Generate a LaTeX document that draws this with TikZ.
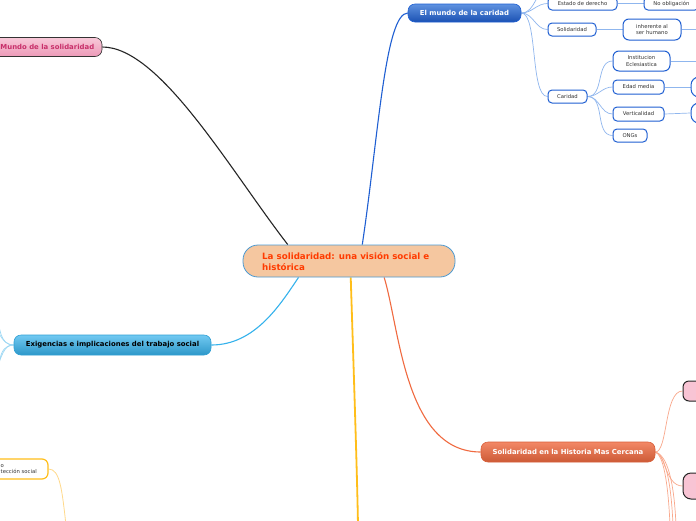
\documentclass[tikz,border=0pt]{standalone}
\usepackage{fontspec}
\setmainfont{DejaVu Sans}
\definecolor{subb}{HTML}{1F5FD2}
\definecolor{subl}{HTML}{8FB6EE}
\definecolor{txt}{HTML}{333333}
\definecolor{mainblue}{HTML}{2A6ED6}
\definecolor{cenfill}{HTML}{F5C7A0}
\definecolor{cenline}{HTML}{4C9AD2}
\definecolor{centxt}{HTML}{FF3B00}
\definecolor{orgline}{HTML}{F06A40}
\definecolor{orglight}{HTML}{F9A88C}
\definecolor{skyline}{HTML}{35B2EC}
\definecolor{skylight}{HTML}{9ED8F4}
\definecolor{yel}{HTML}{FFBE1A}
\definecolor{yellight}{HTML}{FFD98A}
\definecolor{pinktxt}{HTML}{C8306A}
\definecolor{pinktop}{HTML}{F8C8D8}
\definecolor{pinkbot}{HTML}{EC9AB8}
\definecolor{pinkfill}{HTML}{F8C4D4}
\usetikzlibrary{backgrounds}
\tikzset{
  every node/.style={font=\fontsize{5.3}{6.4}\selectfont, inner sep=0pt},
  sub/.style={draw=subb, line width=1pt, fill=white, rounded corners=4pt, text=txt, align=center},
  mainbox/.style={rounded corners=7pt, line width=0.6pt, font=\bfseries\fontsize{6.9}{8}\selectfont},
  subln/.style={draw=subl, line width=0.7pt},
  orgln/.style={draw=orglight, line width=0.7pt},
  skyln/.style={draw=skylight, line width=0.7pt},
}
\begin{document}
\begin{tikzpicture}[x=1pt,y=-1pt]
\useasboundingbox (0,0) rectangle (696,520);
% central
\node[draw=cenline, line width=0.8pt, fill=cenfill, rounded corners=15pt, minimum width=212pt, minimum height=32pt] (central) at (349,261) {};
\node[text=centxt, align=left, font=\bfseries\fontsize{8.7}{11}\selectfont, anchor=west] (centxt) at (262,261.5) {La solidaridad: una visión social e\\histórica};
% main topics
\node[mainbox, draw=subb, top color=mainblue!75!white, bottom color=subb!85!black, text=white, minimum width=113pt, minimum height=18pt] (mundo) at (464.5,13) {El mundo de la caridad};
\node[mainbox, draw=black!80, top color=pinktop, bottom color=pinkbot, minimum width=132pt, minimum height=19pt] (pinkL) at (36,47) {};
\node[text=pinktxt, font=\bfseries\fontsize{6.9}{8}\selectfont, anchor=west] (pinkLt) at (0.3,47) {Mundo de la solidaridad};
\node[mainbox, draw=skyline!90!black, top color=skyline!70!white, bottom color=skyline!85!black, text=black, minimum width=197pt, minimum height=20pt] (exig) at (112.5,345) {Exigencias e implicaciones del trabajo social};
\node[mainbox, draw=orgline!90!black, top color=orgline!80!white, bottom color=orgline!85!black, text=white, minimum width=174pt, minimum height=20pt] (solH) at (568,452) {Solidaridad en la Historia Mas Cercana};
% right pink partial nodes
\node[draw=black!85, line width=1pt, fill=pinkfill, rounded corners=6pt, minimum width=34pt, minimum height=20pt] (pinkR1) at (700,391) {};
\node[draw=black!85, line width=1pt, fill=pinkfill, rounded corners=8pt, minimum width=34pt, minimum height=26pt] (pinkR2) at (700,486) {};
% left yellow partial node
\node[draw=yel, line width=1.2pt, fill=white, rounded corners=6pt, minimum width=108pt, minimum height=20pt] (yelL) at (-6,469) {};
\node[text=txt, align=left, anchor=west] (yelLt) at (0.5,469) {o\\tección social};
% blue sub nodes
\node[sub, minimum width=69pt, minimum height=13pt] (estado) at (582.5,3.5) {Estado de derecho};
\node[sub, minimum width=55pt, minimum height=13pt] (noobl) at (671.5,3.5) {No obligación};
\node[sub, minimum width=48pt, minimum height=13pt] (solid) at (572,29.5) {Solidaridad};
\node[sub, minimum width=58pt, minimum height=21pt, rounded corners=6pt] (inher) at (652,29.5) {inherente al\\ser humano};
\node[sub, minimum width=39pt, minimum height=13pt] (carid) at (567.5,96.5) {Caridad};
\node[sub, minimum width=57pt, minimum height=20pt, rounded corners=6pt] (instit) at (641.5,61) {Institucion\\Eclesiastica};
\node[sub, minimum width=51pt, minimum height=14pt] (edad) at (638.5,87) {Edad media};
\node[sub, minimum width=51pt, minimum height=14pt] (vert) at (638.5,114) {Verticalidad};
\node[sub, minimum width=34pt, minimum height=13pt] (ongs) at (630,135.5) {ONGs};
\node[sub, minimum width=29pt, minimum height=20pt, rounded corners=8pt] (circ1) at (705.5,87) {};
\node[sub, minimum width=29pt, minimum height=20pt, rounded corners=8pt] (circ2) at (705.5,113) {};
% free ends
\coordinate (topc) at (550,-12);
\coordinate (e1) at (700,29.5);
\coordinate (e2) at (700,61);
\coordinate (yb) at (358,525);
\coordinate (yl) at (66,525);
\coordinate (l1) at (-3,313);
\coordinate (l2) at (-3,330);
\coordinate (l3) at (-3,366);
\coordinate (l4) at (-3,386);
\coordinate (o1) at (670,525);
\coordinate (o2) at (673,525);
\coordinate (o3) at (676,525);
\begin{scope}[on background layer]
\fill[white] (0,0) rectangle (696,520);
% main connectors
\draw[black!85, line width=1.1pt] (central.165) .. controls (230,170) and (160,47) .. (pinkL.east);
\draw[subb, line width=1.1pt] (central.51) .. controls (378,140) and (385,13) .. (mundo.west);
\draw[skyline, line width=1.1pt] (central.-162) .. controls (280,305) and (255,345) .. (exig.east);
\draw[orgline, line width=1.1pt] (central.-25) .. controls (400,330) and (405,452) .. (solH.west);
\draw[yel, line width=1.8pt] (central.-84) .. controls (354,380) and (357,470) .. (yb);
% blue sub connectors
\draw[subln] (mundo.east) to[out=0,in=180] (topc);
\draw[subln] (mundo.east) to[out=0,in=180] (estado.west);
\draw[subln] (mundo.east) to[out=0,in=180] (solid.west);
\draw[subln] (mundo.east) .. controls (538,13) and (530,96.5) .. (carid.west);
\draw[subln] (estado.east) -- (noobl.west);
\draw[subln] (solid.east) -- (inher.west);
\draw[subln] (inher.east) -- (e1);
\draw[subln] (instit.east) -- (e2);
\draw[subln] (carid.east) to[out=0,in=180] (instit.west);
\draw[subln] (carid.east) to[out=0,in=180] (edad.west);
\draw[subln] (carid.east) to[out=0,in=180] (vert.west);
\draw[subln] (carid.east) to[out=0,in=180] (ongs.west);
\draw[subln] (edad.east) -- (circ1.west);
\draw[subln] (vert.east) -- (circ2.west);
% sky sub connectors
\draw[skyln] (exig.west) to[out=180,in=-80] (l1);
\draw[skyln] (exig.west) to[out=180,in=-60] (l2);
\draw[skyln] (exig.west) to[out=180,in=60] (l3);
\draw[skyln] (exig.west) to[out=180,in=80] (l4);
% orange sub connectors
\draw[orgln] (solH.east) .. controls (668,452) and (664,391) .. (pinkR1.west);
\draw[orgln] (solH.east) .. controls (665,452) and (665,486) .. (pinkR2.west);
\draw[orgln] (solH.east) .. controls (663,455) and (668,480) .. (o1);
\draw[orgln] (solH.east) .. controls (665,455) and (671,480) .. (o2);
\draw[orgln] (solH.east) .. controls (667,455) and (674,480) .. (o3);
% yellow sub
\draw[yellight, line width=0.8pt] (yelL.east) .. controls (60,469) and (62,490) .. (yl);
\end{scope}
\end{tikzpicture}
\end{document}
